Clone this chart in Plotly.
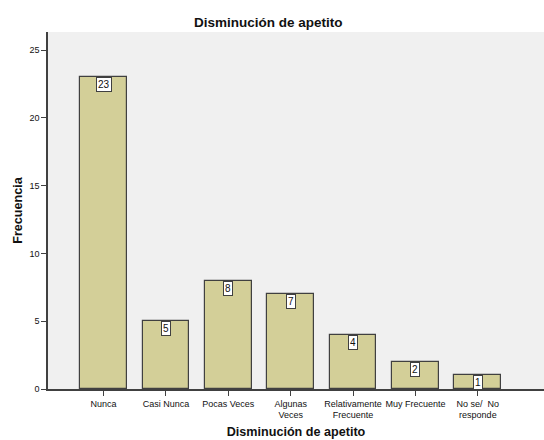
import plotly.graph_objects as go

# Frequency of appetite reduction responses
categories = ["Nunca", "Casi Nunca", "Pocas Veces", "Algunas<br>Veces",
              "Relativamente<br>Frecuente", "Muy Frecuente", "No se/  No<br>responde"]
counts = [23, 5, 8, 7, 4, 2, 1]
y_ticks = [0, 5, 10, 15, 20, 25]

FONT = "Liberation Sans, Arial, sans-serif"
BAR_FILL = "#D3CF98"
EDGE = "#404040"

fig = go.Figure()
fig.add_trace(go.Bar(
    x=list(range(len(categories))),
    y=counts,
    width=0.75,
    marker=dict(color=BAR_FILL, line=dict(color=EDGE, width=1.2)),
    hoverinfo="skip",
))

# Value boxes hanging from the top of each bar
for i, v in enumerate(counts):
    fig.add_annotation(
        x=i, y=v, xref="x", yref="y",
        text=str(v), showarrow=False,
        yanchor="top", xanchor="center",
        bgcolor="white", bordercolor=EDGE, borderwidth=1, borderpad=1,
        font=dict(family=FONT, size=10, color="#111"),
    )

fig.update_layout(
    width=544, height=440,
    margin=dict(l=48, r=0, t=32, b=51),
    paper_bgcolor="white",
    plot_bgcolor="#F0F0F0",
    showlegend=False,
    font=dict(family=FONT, color="#111"),
    title=dict(text="<b>Disminución de apetito</b>", x=0.493, xanchor="center",
               y=0.95, yanchor="middle", font=dict(family=FONT, size=13.5, color="#111")),
    bargap=0,
)

fig.update_xaxes(
    range=[-0.89, 7.06],
    tickmode="array",
    tickvals=list(range(len(categories))),
    ticktext=categories,
    ticks="outside", ticklen=5, tickcolor=EDGE, tickwidth=1,
    showline=True, linecolor=EDGE, linewidth=1.5,
    showgrid=False, zeroline=False,
    tickfont=dict(family=FONT, size=9, color="#111"),
    title=dict(text="<b>Disminución de apetito</b>", standoff=8,
               font=dict(family=FONT, size=12.6, color="#111")),
)

fig.update_yaxes(
    range=[0, 26.33],
    tickmode="array",
    tickvals=y_ticks,
    ticks="outside", ticklen=5, tickcolor=EDGE, tickwidth=1,
    showline=True, linecolor=EDGE, linewidth=1.5,
    showgrid=False, zeroline=False,
    tickfont=dict(family=FONT, size=9, color="#111"),
    title=dict(text="<b>Frecuencia</b>", standoff=4,
               font=dict(family=FONT, size=12.6, color="#111")),
)

fig.write_html("out.html")
